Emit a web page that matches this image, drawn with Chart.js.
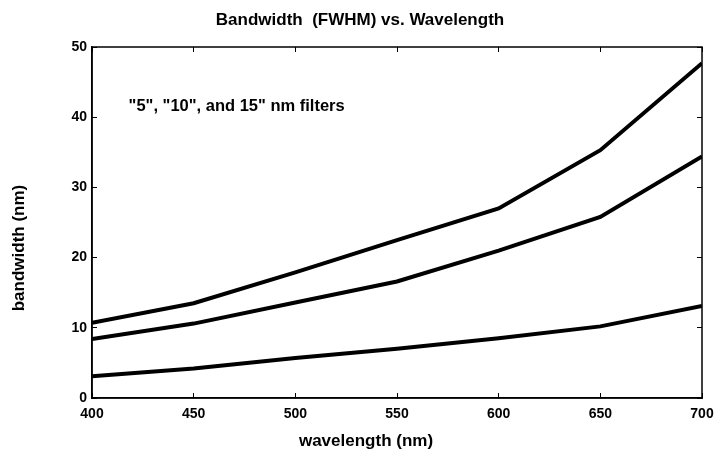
<!DOCTYPE html>
<html>
<head>
<meta charset="utf-8">
<script src="https://cdn.jsdelivr.net/npm/chart.js@4.4.0/dist/chart.umd.min.js"></script>
<style>
  html, body { margin: 0; padding: 0; background: #fff; }
</style>
</head>
<body>
<canvas id="graphic-bandwidth" width="718" height="452"></canvas>
<script>
// wavelength (nm)
const wavelengths = [400, 450, 500, 550, 600, 650, 700];
// bandwidth (nm) for the three filters
const filter15 = [10.7, 13.5, 17.9, 22.5, 27.0, 35.3, 47.7];
const filter10 = [8.4, 10.6, 13.6, 16.6, 21.0, 25.8, 34.4];
const filter5 = [3.1, 4.2, 5.7, 7.0, 8.5, 10.2, 13.1];
const yTicks = [0, 10, 20, 30, 40, 50];

const fontFamily = "'Liberation Sans', Arial, sans-serif";

function toPoints(values) {
    return wavelengths.map((w, i) => ({ x: w, y: values[i] }));
}

// title, note text, axis titles and the frame
const textPlugin = {
    id: 'texts',
    afterDatasetsDraw(chart) {
        const ctx = chart.ctx;
        const a = chart.chartArea;
        ctx.save();
        ctx.fillStyle = '#000';
        ctx.textBaseline = 'middle';

        ctx.font = 'bold 17px ' + fontFamily;
        ctx.textAlign = 'center';
        ctx.fillText('Bandwidth  (FWHM) vs. Wavelength', 360, 20);
        ctx.fillText('wavelength (nm)', 366, 441);

        ctx.font = 'bold 16.5px ' + fontFamily;
        ctx.textAlign = 'left';
        const nx = chart.scales.x.getPixelForValue(418);
        const ny = chart.scales.y.getPixelForValue(41.6);
        ctx.fillText('"5", "10", and 15" nm filters', nx, ny);

        ctx.font = 'bold 17px ' + fontFamily;
        ctx.textAlign = 'center';
        ctx.translate(19, 248);
        ctx.rotate(-Math.PI / 2);
        ctx.fillText('bandwidth (nm)', 0, 0);
        ctx.restore();

        ctx.save();
        ctx.strokeStyle = '#000';
        ctx.lineWidth = 1.5;
        ctx.strokeRect(a.left, a.top, a.right - a.left, a.bottom - a.top);
        ctx.restore();
    }
};

const lineStyle = {
    borderColor: '#000',
    borderWidth: 4,
    pointRadius: 0,
    fill: false,
    tension: 0
};

const data = {
    datasets: [
        Object.assign({ label: '15 nm', data: toPoints(filter15) }, lineStyle),
        Object.assign({ label: '10 nm', data: toPoints(filter10) }, lineStyle),
        Object.assign({ label: '5 nm', data: toPoints(filter5) }, lineStyle)
    ]
};

const noPadding = scale => {
    scale.paddingLeft = 0;
    scale.paddingRight = 0;
    scale.paddingTop = 0;
    scale.paddingBottom = 0;
};

const config = {
    type: 'line',
    data: data,
    options: {
        responsive: false,
        animation: false,
        layout: { padding: { top: 47, right: 16, bottom: 0, left: 0 } },
        plugins: {
            legend: { display: false },
            tooltip: { enabled: false },
            title: { display: false }
        },
        scales: {
            x: {
                type: 'linear',
                position: 'bottom',
                min: 400,
                max: 700,
                afterFit: scale => { scale.height = 54; noPadding(scale); },
                afterBuildTicks: scale => {
                    scale.ticks = wavelengths.map(v => ({ value: v }));
                },
                border: { display: true, color: '#000', width: 1.5 },
                grid: { drawOnChartArea: false, color: '#000', tickLength: -5, lineWidth: 1 },
                ticks: {
                    color: '#000',
                    padding: 13,
                    maxRotation: 0,
                    font: { family: fontFamily, size: 14, weight: 'bold' }
                }
            },
            x2: {
                type: 'linear',
                position: 'top',
                min: 400,
                max: 700,
                afterFit: scale => { scale.height = 0; noPadding(scale); },
                afterBuildTicks: scale => {
                    scale.ticks = wavelengths.map(v => ({ value: v }));
                },
                border: { display: false },
                grid: { drawOnChartArea: false, color: '#000', tickLength: -5, lineWidth: 1 },
                ticks: { display: false }
            },
            y: {
                type: 'linear',
                position: 'left',
                min: 0,
                max: 50,
                afterFit: scale => { scale.width = 92; noPadding(scale); },
                afterBuildTicks: scale => {
                    scale.ticks = yTicks.map(v => ({ value: v }));
                },
                border: { display: true, color: '#000', width: 1.5 },
                grid: { drawOnChartArea: false, color: '#000', tickLength: -5, lineWidth: 1 },
                ticks: {
                    color: '#000',
                    padding: 10,
                    font: { family: fontFamily, size: 14, weight: 'bold' }
                }
            },
            y2: {
                type: 'linear',
                position: 'right',
                min: 0,
                max: 50,
                afterFit: scale => { scale.width = 0; noPadding(scale); },
                afterBuildTicks: scale => {
                    scale.ticks = yTicks.map(v => ({ value: v }));
                },
                border: { display: false },
                grid: { drawOnChartArea: false, color: '#000', tickLength: -5, lineWidth: 1 },
                ticks: { display: false }
            }
        }
    },
    plugins: [textPlugin]
};

new Chart(document.getElementById('graphic-bandwidth'), config);
</script>
</body>
</html>
